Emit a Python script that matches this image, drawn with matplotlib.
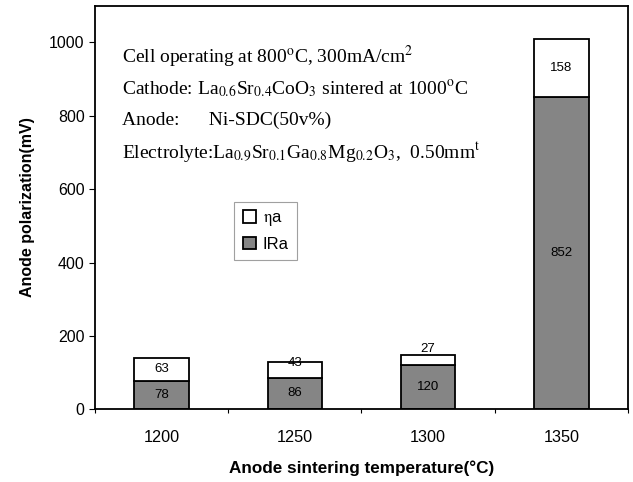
import matplotlib
matplotlib.use("Agg")
import matplotlib.pyplot as plt
import numpy as np

# data
temps = ["1200", "1250", "1300", "1350"]
ir_a = [78, 86, 120, 852]      # IRa (grey, bottom)
eta_a = [63, 43, 27, 158]      # ηa (white, top)

plt.rcParams['font.family'] = ['Liberation Sans', 'DejaVu Sans']
plt.rcParams['mathtext.fontset'] = 'stix'

fig = plt.figure(figsize=(6.33, 4.82), dpi=100)
ax = fig.add_axes([0.150, 0.151, 0.842, 0.837])

x = np.arange(len(temps))
w = 0.41
b1 = ax.bar(x, ir_a, w, color='#858585', edgecolor='black', linewidth=1.3, label='IRa')
b2 = ax.bar(x, eta_a, w, bottom=ir_a, color='white', edgecolor='black', linewidth=1.3,
            label=r'$\mathrm{\eta}$a')

# value labels inside segments
for i in range(len(temps)):
    ax.text(x[i], ir_a[i] / 2, str(ir_a[i]), ha='center', va='center', fontsize=9.5)
    total = ir_a[i] + eta_a[i]
    if eta_a[i] >= 60:
        top_y = ir_a[i] + eta_a[i] / 2
    elif eta_a[i] >= 30:
        top_y = total - 2
    else:
        top_y = total + 17
    ax.text(x[i], top_y, str(eta_a[i]), ha='center', va='center', fontsize=9.5)

ax.set_xlim(-0.5, 3.5)
ax.set_ylim(0, 1100)
ax.set_yticks([0, 200, 400, 600, 800, 1000])
ax.tick_params(axis='y', labelsize=11.5, length=4, direction='out')

# tick marks between categories, labels under bars
ax.set_xticks(np.arange(-0.5, 4, 1))
ax.set_xticklabels([])
ax.set_xticks(x, minor=True)
ax.set_xticklabels(temps, minor=True, fontsize=11.7)
ax.tick_params(axis='x', which='major', length=3, direction='out', width=0.8)
ax.tick_params(axis='x', which='minor', length=0, pad=15)

for s in ax.spines.values():
    s.set_linewidth(1.3)

ax.set_ylabel('Anode polarization(mV)', fontsize=11.5, fontweight='bold', labelpad=10)
ax.set_xlabel('Anode sintering temperature(°C)', fontsize=12.3, fontweight='bold', labelpad=11)

notes = [
    r'Cell operating at 800$^{\rm o}$C, 300mA/cm$^2$',
    r'Cathode: La$_{0.6}$Sr$_{0.4}$CoO$_3$ sintered at 1000$^{\rm o}$C',
    r'Anode:      Ni-SDC(50v%)',
    r'Electrolyte:La$_{0.9}$Sr$_{0.1}$Ga$_{0.8}$Mg$_{0.2}$O$_3$,  0.50mm$^{\rm t}$',
]
ys = [0.873, 0.793, 0.715, 0.636]
for t, yy in zip(notes, ys):
    ax.text(0.051, yy, t, transform=ax.transAxes, fontsize=14,
            family='Liberation Serif', va='center')

leg = ax.legend(handles=[b2, b1], loc='upper left', bbox_to_anchor=(0.246, 0.535),
                fontsize=12, frameon=True, fancybox=False, edgecolor='#888888',
                handlelength=0.8, handleheight=0.8, handletextpad=0.4, borderpad=0.5)
leg.get_frame().set_linewidth(0.8)

fig.savefig('out.png', dpi=100)
